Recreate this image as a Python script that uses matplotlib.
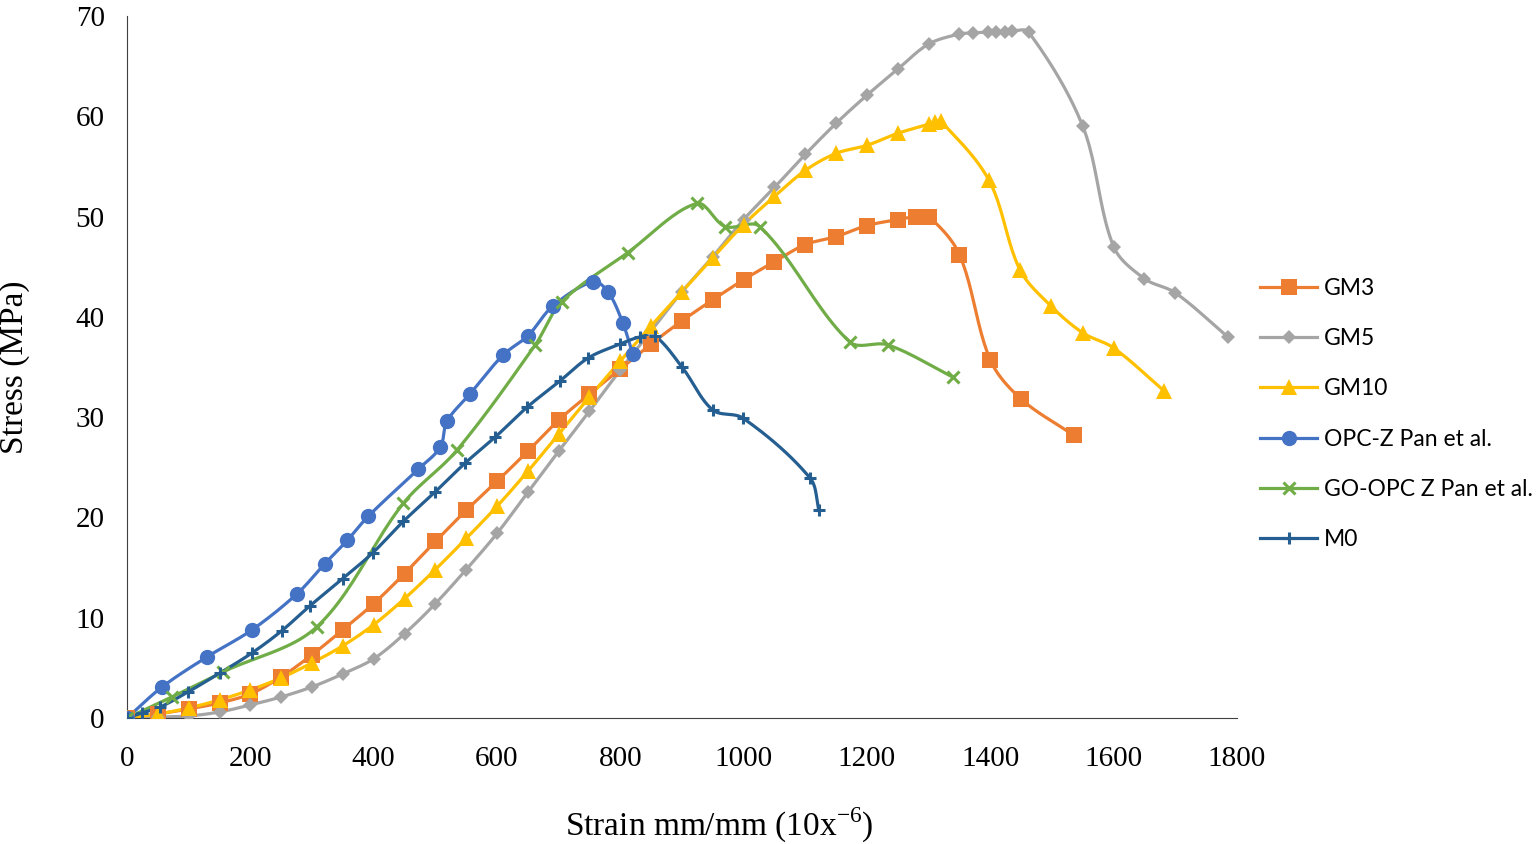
import numpy as np
import matplotlib
matplotlib.use("Agg")
import matplotlib.pyplot as plt

plt.rcParams["mathtext.fontset"] = "custom"
plt.rcParams["mathtext.rm"] = "Liberation Serif"

# data (strain in 10^-6, stress in MPa)
gm3_x = [0, 50, 100, 150, 200, 250, 300, 350, 400, 450, 500, 550, 600, 650, 700, 750, 800, 850,
         900, 950, 1000, 1050, 1100, 1150, 1200, 1250, 1280, 1300, 1350, 1400, 1450, 1535]
gm3_y = [0, 0.4, 0.9, 1.5, 2.4, 4.1, 6.3, 8.8, 11.4, 14.4, 17.6, 20.7, 23.6, 26.6, 29.7, 32.3, 34.8, 37.3,
         39.6, 41.7, 43.7, 45.5, 47.2, 48.0, 49.1, 49.7, 50.0, 50.0, 46.2, 35.7, 31.8, 28.2]

gm5_x = [0, 50, 100, 150, 200, 250, 300, 350, 400, 450, 500, 550, 600, 650, 700, 750, 800, 850,
         900, 950, 1000, 1050, 1100, 1150, 1200, 1250, 1300, 1350, 1372, 1396, 1410, 1424, 1435, 1462,
         1550, 1600, 1650, 1700, 1785]
gm5_y = [0, 0.1, 0.2, 0.6, 1.3, 2.1, 3.1, 4.4, 5.9, 8.4, 11.4, 14.8, 18.4, 22.5, 26.6, 30.6, 34.7, 38.6,
         42.5, 46.0, 49.7, 52.9, 56.2, 59.3, 62.1, 64.7, 67.2, 68.2, 68.3, 68.4, 68.4, 68.4, 68.5, 68.4,
         59.0, 47.0, 43.8, 42.4, 38.0]

gm10_x = [0, 50, 100, 150, 200, 250, 300, 350, 400, 450, 500, 550, 600, 650, 700, 750, 800, 850,
          900, 950, 1000, 1050, 1100, 1150, 1200, 1250, 1300, 1310, 1320, 1398, 1448, 1498, 1550, 1600, 1682]
gm10_y = [0, 0.4, 1.0, 1.8, 2.8, 4.0, 5.5, 7.2, 9.3, 11.9, 14.8, 17.9, 21.1, 24.6, 28.3, 32.0, 35.6, 39.1,
          42.5, 45.9, 49.2, 52.0, 54.6, 56.3, 57.1, 58.3, 59.2, 59.4, 59.5, 53.6, 44.7, 41.1, 38.4, 36.9, 32.6]

opc_x = [0, 57, 130, 203, 276, 321, 357, 391, 472, 508, 519, 556, 610, 650, 691, 756, 780, 804, 820]
opc_y = [0, 3.1, 6.1, 8.8, 12.4, 15.4, 17.7, 20.1, 24.8, 27.0, 29.6, 32.3, 36.2, 38.1, 41.1, 43.5, 42.5, 39.4, 36.3]

goopc_x = [0, 73, 156, 308, 448, 535, 662, 705, 812, 924, 970, 1026, 1172, 1234, 1339]
goopc_y = [0, 2.1, 4.6, 9.1, 21.4, 26.7, 37.2, 41.5, 46.4, 51.3, 49.0, 49.0, 37.5, 37.2, 34.0]

m0_x = [0, 24, 54, 99, 151, 203, 251, 297, 350, 399, 448, 499, 548, 597, 649, 702, 748, 800, 832, 856,
        900, 950, 999, 1108, 1122]
m0_y = [0, 0.5, 1.1, 2.6, 4.5, 6.5, 8.7, 11.2, 13.9, 16.5, 19.6, 22.5, 25.4, 28.0, 31.0, 33.6, 35.9, 37.3, 38.0, 38.1,
        35.0, 30.7, 29.9, 23.9, 20.7]

labels = ["GM3", "GM5", "GM10", "OPC-Z Pan et al.", "GO-OPC Z Pan et al.", "M0"]
colors = ["#ED7D31", "#A5A5A5", "#FFC000", "#4472C4", "#70AD47", "#255E91"]
markers = ["s", "D", "^", "o", "x", "+"]
msizes = [11, 7, 11, 11, 9, 8]


def smooth(x, y, n=24, sx=0.6167, sy=10.03):
    # smoothed line through the points (bezier with tangents scaled by segment length)
    P = np.column_stack([np.asarray(x, float), np.asarray(y, float)])
    P = np.vstack([P[0], P, P[-1]])
    scale = np.array([sx, sy])
    t = np.linspace(0, 1, n)[:, None]
    out = []
    for i in range(1, len(P) - 2):
        p0, p1, p2, p3 = P[i - 1], P[i], P[i + 1], P[i + 2]
        d01 = np.linalg.norm((p1 - p0) * scale)
        d12 = np.linalg.norm((p2 - p1) * scale)
        d23 = np.linalg.norm((p3 - p2) * scale)
        c1 = p1 + (p2 - p0) * d12 / (3 * (d01 + d12) + 1e-9)
        c2 = p2 - (p3 - p1) * d12 / (3 * (d12 + d23) + 1e-9)
        seg = (1 - t) ** 3 * p1 + 3 * (1 - t) ** 2 * t * c1 + 3 * (1 - t) * t ** 2 * c2 + t ** 3 * p2
        out.append(seg)
    out = np.vstack(out)
    return out[:, 0], out[:, 1]


series = [(gm3_x, gm3_y), (gm5_x, gm5_y), (gm10_x, gm10_y),
          (opc_x, opc_y), (goopc_x, goopc_y), (m0_x, m0_y)]

fig = plt.figure(figsize=(15.36, 8.44), dpi=100)
ax = fig.add_axes([0.0827, 0.1493, 0.7226, 0.8318])

handles = []
for (x, y), lab, c, m, ms in zip(series, labels, colors, markers, msizes):
    sx, sy = smooth(x, y)
    ax.plot(sx, sy, color=c, lw=2.3, zorder=2)
    mew = 2.2 if m in ("x", "+") else 0
    ax.plot(x, y, ls="none", marker=m, ms=ms, color=c, mec=c, mew=mew, zorder=3)
    h, = ax.plot([], [], color=c, lw=2.3, marker=m, ms=ms, mec=c, mew=mew)
    handles.append(h)

ax.set_xlim(0, 1800)
ax.set_ylim(0, 70)
ax.set_xticks(range(0, 1801, 200))
ax.set_yticks(range(0, 71, 10))
for s in ["top", "right"]:
    ax.spines[s].set_visible(False)
ax.spines["left"].set_color("#404040")
ax.spines["bottom"].set_color("#404040")
ax.tick_params(axis="x", length=0, pad=20, labelsize=21)
ax.tick_params(axis="y", length=0, pad=16, labelsize=21)
for t in ax.get_xticklabels() + ax.get_yticklabels():
    t.set_family("Liberation Serif")

ax.set_xlabel("Strain mm/mm (10x$^{\\mathrm{-6}}$)", family="Liberation Serif", fontsize=24)
ax.xaxis.set_label_coords(0.534, -0.125)
ax.set_ylabel("Stress (MPa)", family="Liberation Serif", fontsize=24)
ax.yaxis.set_label_coords(-0.087, 0.5)

fig.legend(handles, labels, loc="center left", bbox_to_anchor=(0.8203, 0.5095), frameon=False,
           prop={"family": "Lato", "size": 16.5}, handlelength=2.5, labelspacing=1.28,
           handletextpad=0.3, borderaxespad=0, borderpad=0)

fig.savefig("out.png", dpi=100)
